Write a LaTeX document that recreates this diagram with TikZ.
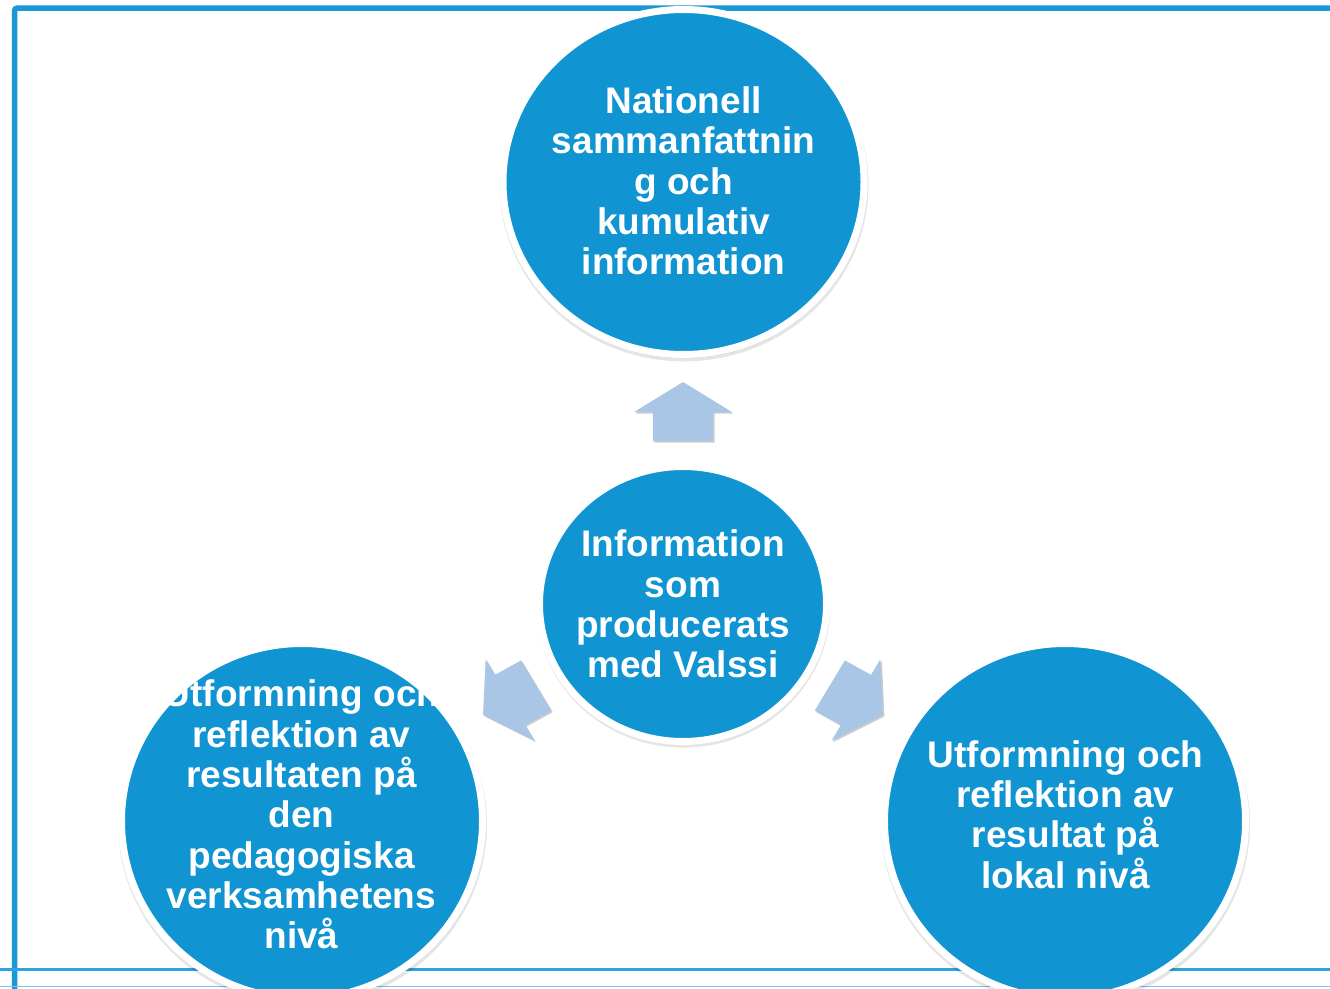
\documentclass[tikz,border=0pt]{standalone}
\usepackage{fontspec}
\setmainfont{Liberation Sans}
\usetikzlibrary{shapes.geometric,shadows}
\definecolor{framec}{HTML}{1A98D5}
\definecolor{linec}{HTML}{2EA3DC}
\definecolor{linec2}{HTML}{7CC3E8}
\definecolor{circc}{HTML}{1094D2}
\definecolor{arrc}{HTML}{A9C6E6}
\tikzset{
  bubble/.style={ellipse, draw=white, line width=7pt, fill=circc, inner sep=0pt,
    drop shadow={shadow scale=1.022, shadow xshift=0.5pt, shadow yshift=-3pt, opacity=0.10, fill=black},
    drop shadow={shadow scale=1.01, shadow xshift=0.5pt, shadow yshift=-2pt, opacity=0.10, fill=black}},
  bigbubble/.style={bubble, minimum width=361pt, minimum height=345pt},
  lowbubble/.style={bubble, minimum width=361pt, minimum height=355pt},
  midbubble/.style={bubble, minimum width=287pt, minimum height=275pt},
  bubbletext/.style={text=white, align=center, inner sep=0pt,
    font=\fontsize{37}{40.3}\selectfont\bfseries},
  blockarrow/.style={fill=arrc,
    drop shadow={shadow xshift=1.5pt, shadow yshift=-1.5pt, opacity=0.2, fill=black}},
}
\begin{document}
\begin{tikzpicture}[x=1pt,y=-1pt]
\useasboundingbox (0,0) rectangle (1330,988);
\fill[white] (0,0) rectangle (1330,988);
% frame
\coordinate (fl) at (14.5,995);
\coordinate (fc) at (14.5,8);
\coordinate (fr) at (1340,8);
\draw[framec, line width=5.5pt, rounded corners=3pt] (fl) -- (fc) -- (fr);
\coordinate (b1l) at (-5,969.5);
\coordinate (b1r) at (1335,969.5);
\coordinate (b2l) at (-5,986.5);
\coordinate (b2r) at (1335,986.5);
\draw[linec, line width=2.5pt] (b1l) -- (b1r);
\draw[linec2, line width=1.5pt] (b2l) -- (b2r);
% circles
\node[bigbubble] (top) at (683.5,182) {};
\node[midbubble] (mid) at (683,604) {};
\node[lowbubble] (bl) at (302,821) {};
\node[lowbubble] (br) at (1065,821) {};
% arrows
\foreach \ang in {0,120,-120}{
  \begin{scope}[shift={(mid.center)}, xscale=1.04, rotate=\ang]
    \path[blockarrow] (-29,-163) -- (29,-163) -- (29,-192) -- (47,-192) -- (0,-222)
      -- (-47,-192) -- (-29,-192) -- cycle;
  \end{scope}
}
% texts
\node[bubbletext] (ttop) at (683.5,181) {Nationell\\sammanfattnin\\g och\\kumulativ\\information};
\node[bubbletext] (tmid) at (mid.center) {Information\\som\\producerats\\med Valssi};
\node[bubbletext] (tbl) at (301.5,814.5) {Utformning och\\reflektion av\\resultaten på\\den\\pedagogiska\\verksamhetens\\nivå};
\node[bubbletext] (tbr) at (1065.5,814.5) {Utformning och\\reflektion av\\resultat på\\lokal nivå};
\end{tikzpicture}
\end{document}
